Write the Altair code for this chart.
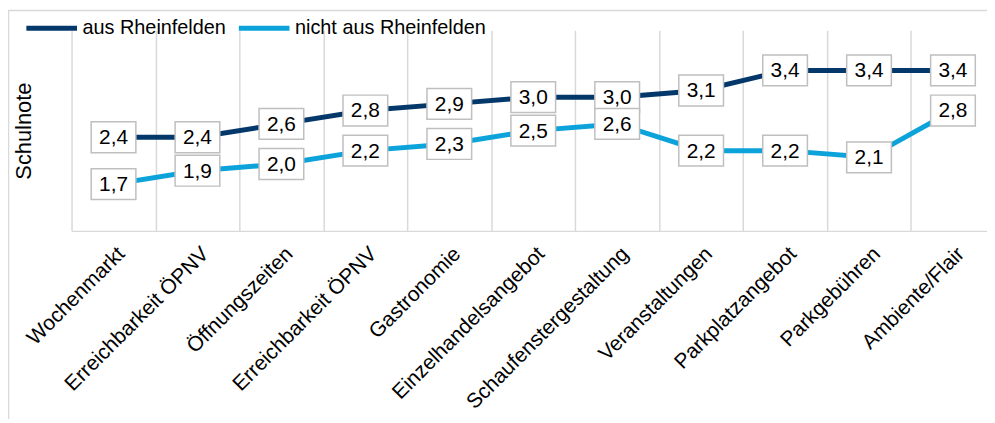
import json
import altair as alt
import pandas as pd

categories = ["Wochenmarkt", "Erreichbarkeit ÖPNV", "Öffnungszeiten", "Erreichbarkeit ÖPNV",
              "Gastronomie", "Einzelhandelsangebot", "Schaufenstergestaltung", "Veranstaltungen",
              "Parkplatzangebot", "Parkgebühren", "Ambiente/Flair"]
series_names = ["aus Rheinfelden", "nicht aus Rheinfelden"]
aus_values = [2.4, 2.4, 2.6, 2.8, 2.9, 3.0, 3.0, 3.1, 3.4, 3.4, 3.4]
nicht_values = [1.7, 1.9, 2.0, 2.2, 2.3, 2.5, 2.6, 2.2, 2.2, 2.1, 2.8]
colors = ["#05386a", "#0ba3da"]

rows = []
for name, vals in zip(series_names, [aus_values, nicht_values]):
    for i, v in enumerate(vals):
        rows.append({"idx": i, "series": name, "value": v})
df = pd.DataFrame(rows)

FONT = "Liberation Sans"
label_expr = json.dumps(categories, ensure_ascii=False) + "[datum.value]"

x_enc = alt.X("idx:O",
              scale=alt.Scale(type="band", paddingInner=0, paddingOuter=0, range=[0, 930]),
              axis=alt.Axis(title=None, labelExpr=label_expr, labelAngle=-45, labelFontSize=21,
                            labelFont=FONT, labelColor="black", labelPadding=12, ticks=False,
                            grid=True, gridColor="#d9d9d9", gridWidth=1.5, domainColor="#d9d9d9",
                            domainWidth=1.5, tickBand="extent", labelOverlap=False,
                            labelLimit=0, labelBound=False))
y_enc = alt.Y("value:Q", scale=alt.Scale(domain=[1, 4]),
              axis=alt.Axis(labels=False, ticks=False, domain=False, grid=False, title="Schulnote",
                            titleFontSize=22, titleFont=FONT, titleFontWeight="normal",
                            titlePadding=36, titleColor="black"))

base = alt.Chart(df)

lines = base.mark_line(strokeWidth=5).encode(
    x=x_enc, y=y_enc,
    color=alt.Color("series:N", sort=series_names,
                    scale=alt.Scale(domain=series_names, range=colors),
                    legend=alt.Legend(orient="none", legendX=-48, legendY=-30, direction="horizontal",
                                      title=None, symbolType="stroke", symbolSize=2601,
                                      symbolStrokeWidth=5, labelFontSize=20, labelFont=FONT,
                                      labelColor="black", columnPadding=2, labelOffset=3,
                                      labelLimit=0)),
    detail="series:N",
)

boxes = base.mark_point(shape="M-1,-0.69L1,-0.69L1,0.69L-1,0.69Z", size=2025, filled=True,
                        fill="white", stroke="#bfbfbf", strokeWidth=1.5, opacity=1).encode(
    x=x_enc, y=y_enc)

texts = base.transform_calculate(
    label="replace(format(datum.value, '.1f'), '.', ',')"
).mark_text(fontSize=21, font=FONT, color="black", baseline="middle", dy=1).encode(
    x=x_enc, y=y_enc, text="label:N")

frame = alt.Chart(alt.Data(values=[{}])).mark_rect(
    filled=False, stroke="#d9d9d9", strokeWidth=1.5, clip=False).encode(
    x=alt.value(-63.5), x2=alt.value(1100), y=alt.value(-20), y2=alt.value(600))

chart = alt.layer(frame, lines, boxes, texts).properties(
    width=922, height=202, autosize="none",
    padding={"left": 64, "top": 21, "right": 0, "bottom": 188},
).configure_view(stroke=None)

chart.save("out.html", embed_options={"renderer": "svg", "actions": False})
